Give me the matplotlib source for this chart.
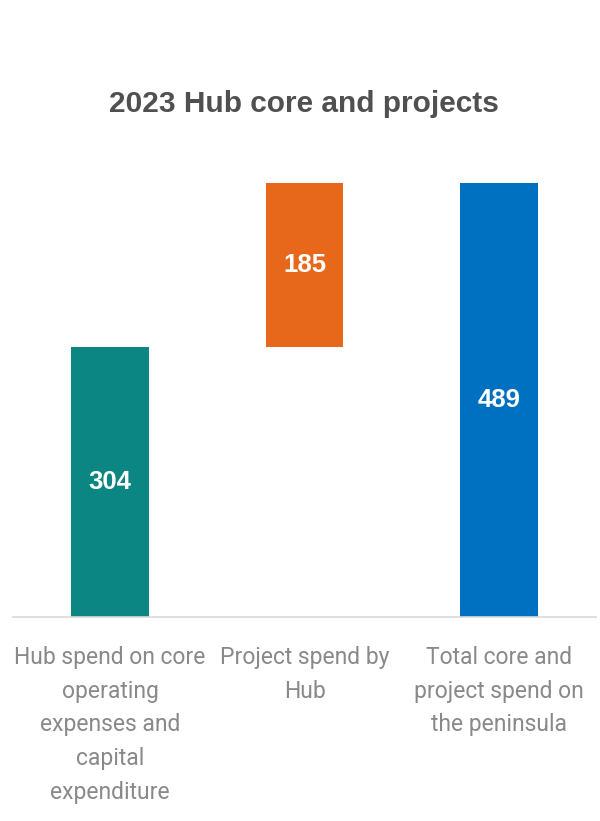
import matplotlib.pyplot as plt
import numpy as np

# chart data
categories = [
    "Hub spend on core\noperating\nexpenses and\ncapital\nexpenditure",
    "Project spend by\nHub",
    "Total core and\nproject spend on\nthe peninsula",
]
core_spend = 304
project_spend = 185
values = [core_spend, project_spend, core_spend + project_spend]
bottoms = [0, core_spend, 0]
bar_colors = ["#0b8682", "#e7681a", "#0070c0"]

plt.rcParams['font.family'] = ['Roboto', 'DejaVu Sans']

fig = plt.figure(figsize=(6, 8.21), dpi=100)
ax = fig.add_axes([13 / 600, 204 / 821, 583 / 600, 443.8 / 821])

x = np.arange(len(categories))
bars = ax.bar(x, values, bottom=bottoms, width=0.4, color=bar_colors, zorder=2)

# value labels in the middle of each bar
for b, v in zip(bars, values):
    ax.text(b.get_x() + b.get_width() / 2, b.get_y() + b.get_height() / 2, str(v),
            ha='center', va='center', color='white', fontsize=18.5, fontweight='bold',
            family=['Liberation Sans', 'DejaVu Sans'])

ax.set_xlim(-0.5, 2.5)
ax.set_ylim(0, 500)
ax.set_yticks([])
ax.set_xticks(x)
ax.set_xticklabels(categories, fontsize=16.5, color='#898989', linespacing=1.59)
ax.tick_params(axis='x', length=0, pad=21)
for s in ['top', 'right', 'left']:
    ax.spines[s].set_visible(False)
ax.spines['bottom'].set_color('#d9d9d9')
ax.spines['bottom'].set_linewidth(1.2)

fig.text(0.507, 1 - 104 / 821, "2023 Hub core and projects", ha='center', va='center',
         fontsize=21.5, fontweight='bold', color='#505050',
         family=['Liberation Sans', 'DejaVu Sans'])

fig.savefig("out.png", dpi=100)
